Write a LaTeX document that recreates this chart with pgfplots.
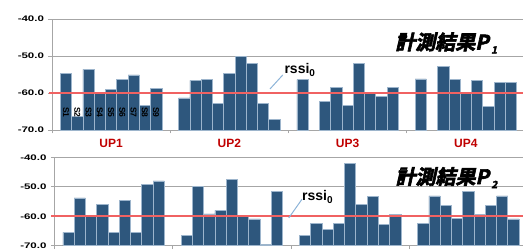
\documentclass[border=0pt]{standalone}
\usepackage{fontspec}
\setmainfont{Liberation Sans}
\newfontfamily\cjk[FakeSlant=0.22,FakeBold=3]{Noto Sans CJK JP Bold}
\usepackage{pgfplots}
\pgfplotsset{compat=1.18}
\usepackage{pgfplotstable}
\definecolor{barfill}{HTML}{2E577D}
\definecolor{baredge}{HTML}{9DB5CC}
\definecolor{gridc}{HTML}{A6A6A6}
\definecolor{refred}{HTML}{F06262}
\definecolor{uplab}{HTML}{C00000}
\definecolor{leader}{HTML}{8DB4D8}

\pgfplotstableread{
x v
1.25 -54.8
2.25 -66.3
3.25 -53.6
4.25 -59.8
5.25 -59.0
6.25 -56.4
7.25 -55.1
8.25 -63.3
9.25 -58.8
11.75 -61.3
12.75 -56.6
13.75 -56.4
14.75 -62.9
15.75 -54.8
16.75 -50.1
17.75 -52.1
18.75 -62.9
19.75 -67.2
22.25 -56.4
24.25 -62.2
25.25 -58.4
26.25 -63.4
27.25 -52.0
28.25 -60.2
29.25 -60.9
30.25 -58.4
32.75 -56.2
34.75 -52.9
35.75 -56.4
36.75 -60.0
37.75 -56.6
38.75 -63.6
39.75 -57.2
40.75 -57.2
}\topdata

\pgfplotstableread{
x v
1.25 -65.5
2.25 -53.8
3.25 -60.1
4.25 -56.0
5.25 -65.5
6.25 -54.6
7.25 -65.5
8.25 -49.2
9.25 -48.0
11.75 -66.6
12.75 -49.8
13.75 -59.2
14.75 -58.0
15.75 -47.4
16.75 -59.8
17.75 -60.9
18.75 -69.6
19.75 -51.7
22.25 -66.4
23.25 -62.3
24.25 -64.5
25.25 -62.3
26.25 -42.0
27.25 -56.1
28.25 -53.2
29.25 -62.8
30.25 -59.5
32.75 -62.3
33.75 -53.1
34.75 -56.3
35.75 -60.7
36.75 -51.5
37.75 -59.5
38.75 -56.3
39.75 -53.1
40.75 -60.9
}\botdata

\newcommand{\slab}{\fontsize{8.5}{8.5}\selectfont\bfseries}
\newcommand{\uplabfont}{\fontsize{12}{12}\selectfont\bfseries}
\newcommand{\titfont}{\fontsize{20}{20}\selectfont}
\newcommand{\rssifont}{\fontsize{14}{14}\selectfont\bfseries}
\newcommand{\rssitext}{rssi\raisebox{-3pt}{\fontsize{10}{10}\selectfont 0}}
\newcommand{\titsub}[1]{\kern2.5pt\raisebox{-4pt}{\fontsize{10}{10}\selectfont #1}}

\pgfplotsset{
  panel/.style={
    scale only axis, width=473pt,
    xmin=0, xmax=42, ymin=-70, ymax=-40,
    y coord trafo/.code={\pgfmathparse{##1+70}},
    y coord inv trafo/.code={\pgfmathparse{##1-70}},
    ytick={-70,-60,-50,-40},
    yticklabels={-70.0,-60.0,-50.0,-40.0},
    xtick={0,10.5,21,31.5,42}, xticklabels={},
    axis x line*=bottom, axis y line*=left,
    axis line style={gridc, line width=0.8pt, -},
    ymajorgrids, grid style={gridc, line width=0.8pt},
    tick style={gridc, line width=0.8pt},
    tick align=outside, major tick length=3.5pt,
    yticklabel style={font=\fontsize{11.5}{11.5}\selectfont\bfseries, yscale=0.7, xshift=-1pt},
    clip=false,
  },
  bars/.style={ybar, bar width=1, fill=barfill, draw=baredge, line width=0.6pt},
}

\begin{document}
\begin{tikzpicture}
\useasboundingbox (0,0) rectangle (523pt,251pt);

% top panel
\begin{axis}[panel, height=111pt, at={(52pt,121pt)}, anchor=south west]
\addplot[bars] table[x=x, y=v] {\topdata};
\addplot[refred, line width=1.5pt, forget plot] coordinates {(-0.3,-60) (42.5,-60)};
\node[rotate=-90, font=\slab, text=black, inner sep=0pt] at (axis cs:1.25,-65.2) {S1};
\node[rotate=-90, font=\slab, text=black, inner sep=0pt] at (axis cs:2.25,-65.2) {S2};
\node[rotate=-90, font=\slab, text=black, inner sep=0pt] at (axis cs:3.25,-65.2) {S3};
\node[rotate=-90, font=\slab, text=black, inner sep=0pt] at (axis cs:4.25,-65.2) {S4};
\node[rotate=-90, font=\slab, text=black, inner sep=0pt] at (axis cs:5.25,-65.2) {S5};
\node[rotate=-90, font=\slab, text=black, inner sep=0pt] at (axis cs:6.25,-65.2) {S6};
\node[rotate=-90, font=\slab, text=black, inner sep=0pt] at (axis cs:7.25,-65.2) {S7};
\node[rotate=-90, font=\slab, text=black, inner sep=0pt] at (axis cs:8.25,-65.2) {S8};
\node[rotate=-90, font=\slab, text=black, inner sep=0pt] at (axis cs:9.25,-65.2) {S9};
\node[font=\uplabfont, text=uplab] at (axis cs:5.25,-73.5) {UP1};
\node[font=\uplabfont, text=uplab] at (axis cs:15.75,-73.5) {UP2};
\node[font=\uplabfont, text=uplab] at (axis cs:26.25,-73.5) {UP3};
\node[font=\uplabfont, text=uplab] at (axis cs:36.75,-73.5) {UP4};
\node[font=\titfont, inner sep=0pt] at (axis cs:35,-46.5) {\cjk 計測結果P\titsub{1}};
\draw[leader, line width=1pt] (axis cs:20.5,-55.1) -- (axis cs:19.36,-58.9);
\node[font=\rssifont, inner sep=0pt] at (axis cs:22.0,-53.8) {\rssitext};
\end{axis}

% bottom panel
\begin{axis}[panel, height=88.4pt, at={(54.5pt,5.3pt)}, anchor=south west]
\addplot[bars] table[x=x, y=v] {\botdata};
\addplot[refred, line width=1.5pt, forget plot] coordinates {(-0.3,-60) (42.5,-60)};
\node[font=\titfont, inner sep=0pt] at (axis cs:34.8,-46.9) {\cjk 計測結果P\titsub{2}};
\draw[leader, line width=1pt] (axis cs:21.98,-54.2) -- (axis cs:20.8,-60.6);
\node[font=\rssifont, inner sep=0pt] at (axis cs:23.35,-53.6) {\rssitext};
\end{axis}
\end{tikzpicture}
\end{document}
